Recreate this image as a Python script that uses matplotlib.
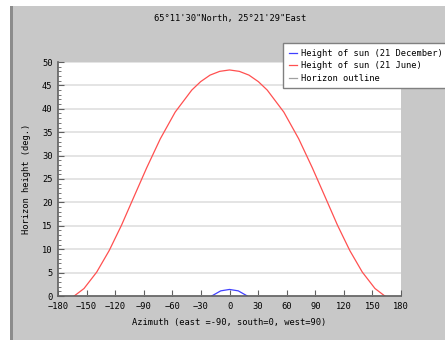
import matplotlib
matplotlib.use("Agg")
import matplotlib.pyplot as plt
from matplotlib.patches import Rectangle
from matplotlib.ticker import MultipleLocator

plt.rcParams.update({'font.family': 'DejaVu Sans Mono', 'font.size': 6.3})

title = "65\u00b011'30\"North, 25\u00b021'29\"East"

# height of sun, 21 June (azimuth deg, height deg)
june_az = [-163, -152.7, -139.4, -126.3, -113.4, -100.3, -86.9, -72.6, -57.0, -39.6,
           -30.3, -20.4, -10.3, 0, 10.3, 20.4, 30.3, 39.6, 57.0, 72.6, 86.9, 100.3,
           113.4, 126.3, 139.4, 152.7, 163]
june_h = [0, 1.6, 5.1, 9.7, 15.1, 21.2, 27.4, 33.6, 39.3, 44.0,
          45.8, 47.2, 48.0, 48.3, 48.0, 47.2, 45.8, 44.0, 39.3, 33.6, 27.4, 21.2,
          15.1, 9.7, 5.1, 1.6, 0]

# height of sun, 21 December
dec_az = [-18.7, -9.2, 0, 9.2, 18.7]
dec_h = [0, 1.1, 1.4, 1.1, 0]

# horizon outline
hor_az = [-180, 180]
hor_h = [0, 0]

fig = plt.figure(figsize=(4.45, 3.40), dpi=100, facecolor='white')
fig.patches.append(Rectangle((10 / 445, 0), 1, 1 - 6 / 340, transform=fig.transFigure,
                             facecolor='#c8c8c8', edgecolor='none', zorder=-2))
fig.patches.append(Rectangle((10 / 445, 0), 3 / 445, 1 - 6 / 340, transform=fig.transFigure,
                             facecolor='#8c8c8c', edgecolor='none', zorder=-1))

ax = fig.add_axes([58 / 445, 1 - 296 / 340, 343 / 445, 234 / 340])
ax.set_facecolor('white')

ax.plot(dec_az, dec_h, color='#4040ff', lw=0.9, label='Height of sun (21 December)')
ax.plot(june_az, june_h, color='#ff5050', lw=0.9, label='Height of sun (21 June)')
ax.plot(hor_az, hor_h, color='#a0a0a0', lw=0.9, label='Horizon outline', zorder=0)

ax.set_xlim(-180, 180)
ax.set_ylim(0, 50)
ax.xaxis.set_major_locator(MultipleLocator(30))
ax.yaxis.set_major_locator(MultipleLocator(5))
ax.yaxis.set_minor_locator(MultipleLocator(1))
ax.grid(axis='y', color='#e4e4e4', lw=1.4)
ax.set_axisbelow(True)

for s in ['top', 'right']:
    ax.spines[s].set_visible(False)
for s in ['left', 'bottom']:
    ax.spines[s].set_color('#606060')
    ax.spines[s].set_linewidth(1.2)

ax.tick_params(which='major', direction='in', length=4, color='#606060', labelsize=6.3, pad=4)
ax.tick_params(which='minor', direction='in', length=2, color='#606060')
ax.tick_params(axis='x', which='minor', bottom=False)

ax.set_xlabel('Azimuth (east =-90, south=0, west=90)', fontsize=6.3, labelpad=5)
ax.set_ylabel('Horizon height (deg.)', fontsize=6.3, labelpad=8)

fig.text(230 / 445, 1 - 18 / 340, title, ha='center', va='center', fontsize=6.3)

leg = fig.legend(loc='upper left', bbox_to_anchor=(279 / 445, 1 - 39 / 340),
                 fontsize=6.3, handlelength=1.0, handletextpad=0.4, borderpad=0.6,
                 labelspacing=0.4, fancybox=False, framealpha=1)
leg.get_frame().set_edgecolor('#808080')
leg.get_frame().set_linewidth(1.0)

fig.savefig('out.png', dpi=100)
